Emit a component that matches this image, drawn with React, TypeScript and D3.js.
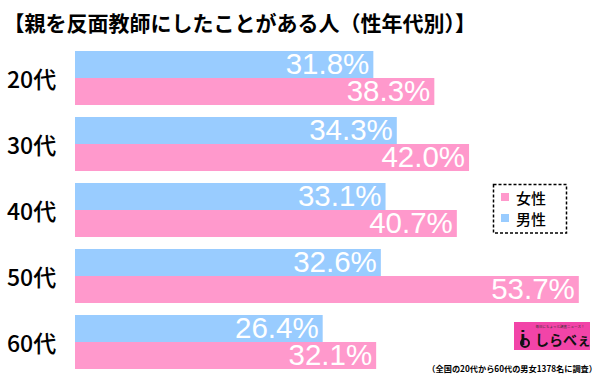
import React from "react";
import * as d3 from "d3";

const categories = ["20代", "30代", "40代", "50代", "60代"];
const maleValues = [31.8, 34.3, 33.1, 32.6, 26.4];
const femaleValues = [38.3, 42.0, 40.7, 53.7, 32.1];
const seriesNames = ["女性", "男性"];
const title = "【親を反面教師にしたことがある人（性年代別）】";
const footnote = "（全国の20代から60代の男女1378名に調査）";

const W = 600;
const H = 376;
const BLUE = "#99ccff";
const PINK = "#ff99cc";
const JP = "'Noto Sans CJK JP', 'Noto Sans', sans-serif";
const NUM = "'Liberation Sans', Arial, sans-serif";

export default function App() {
  const y = d3.scaleBand<string>().domain(categories).range([45, 375]).paddingInner(0.1818).paddingOuter(0.0909);
  const x = d3.scaleLinear().domain([0, 55]).range([75, 591]);
  const bh = y.bandwidth() / 2;

  return (
    <svg width={W} height={H} style={{ position: "absolute", left: 0, top: 0, background: "#fff" }}>
      <text x={3.5} y={21.5} dominantBaseline="central" fontFamily={JP} fontWeight={700} fontSize={21} fill="#000">
        {title}
      </text>
      {categories.map((c, i) => {
        const y0 = y(c)!;
        const rows = [
          { v: maleValues[i], color: BLUE, yy: y0 },
          { v: femaleValues[i], color: PINK, yy: y0 + bh },
        ];
        return (
          <g key={c}>
            <text x={7} y={y0 + bh} dominantBaseline="central" fontFamily={JP} fontWeight={500} fontSize={23} fill="#000">
              {c}
            </text>
            {rows.map((r, j) => (
              <g key={j}>
                <rect x={x(0)} y={r.yy} width={x(r.v) - x(0)} height={bh} fill={r.color} />
                <text x={x(r.v) - 4} y={r.yy + bh - 4.5} textAnchor="end" fontFamily={NUM} fontSize={29.5} fill="#fff">
                  {r.v.toFixed(1) + "%"}
                </text>
              </g>
            ))}
          </g>
        );
      })}
      <g>
        <rect x={493.5} y={184.5} width={73} height={48.5} fill="#fff" stroke="#000" strokeWidth={1.5} strokeDasharray="3,2" />
        {seriesNames.map((s, i) => (
          <g key={s}>
            <rect x={501} y={193 + i * 21} width={8} height={8} fill={i === 0 ? PINK : BLUE} />
            <text x={516} y={197.5 + i * 21} dominantBaseline="central" fontFamily={JP} fontWeight={500} fontSize={15} fill="#000">
              {s}
            </text>
          </g>
        ))}
      </g>
      <g>
        <rect x={514} y={322} width={76} height={28} fill="#f244a8" />
        <text x={560} y={328} textAnchor="middle" fontFamily={JP} fontSize={3.5} fill="#333">
          毎日にちょっと調査ニュース！
        </text>
        <text x={520} y={345} fontFamily={NUM} fontWeight={700} fontSize={20} fill="#111">
          i
        </text>
        <circle cx={525} cy={343} r={4} fill="none" stroke="#111" strokeWidth={2} />
        <text x={535} y={344.5} fontFamily={JP} fontWeight={700} fontSize={14} fill="#111">
          しらべぇ
        </text>
      </g>
      <text x={597} y={368} textAnchor="end" dominantBaseline="central" fontFamily={JP} fontWeight={700} fontSize={8.2} fill="#000">
        {footnote}
      </text>
    </svg>
  );
}
